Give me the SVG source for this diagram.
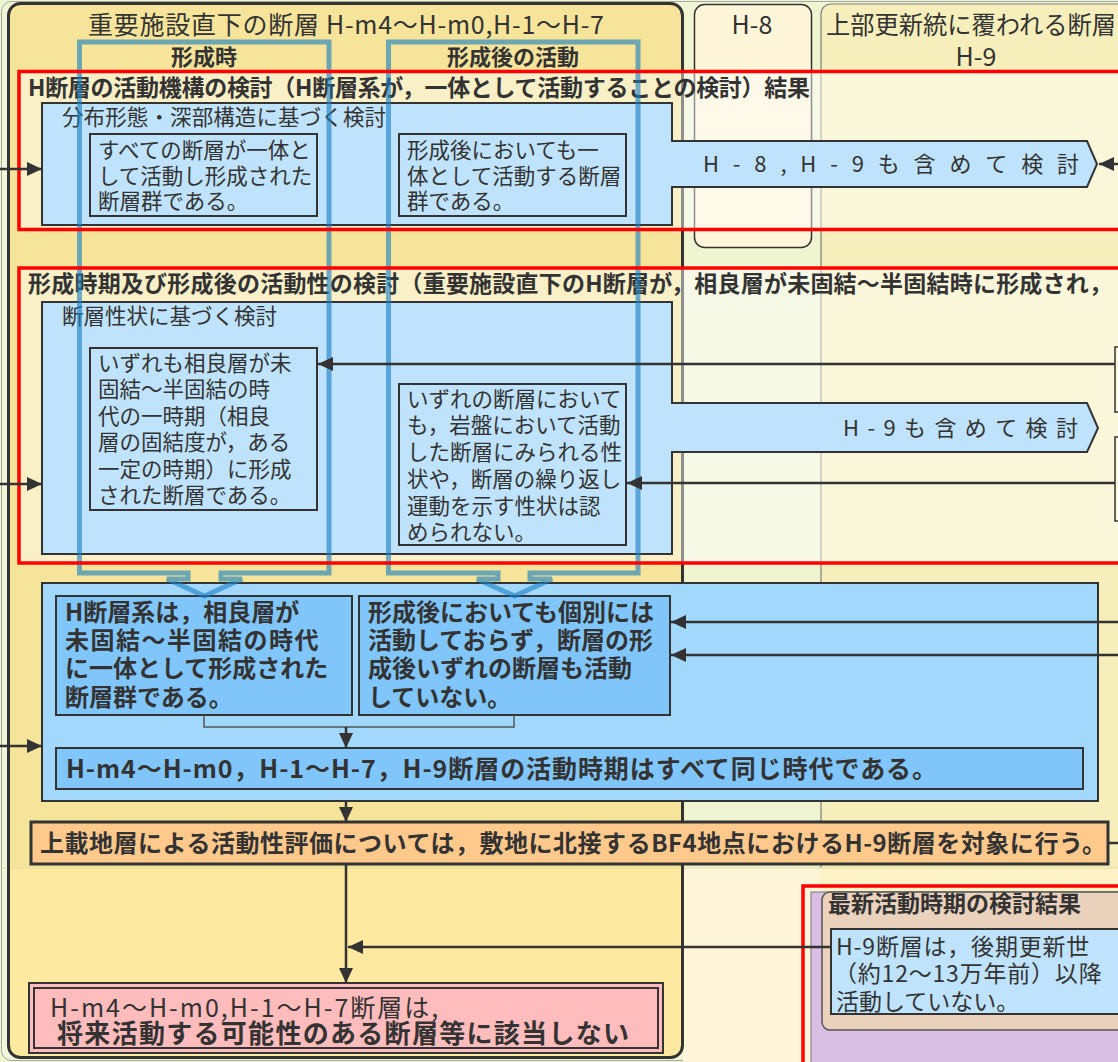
<svg xmlns="http://www.w3.org/2000/svg" width="1118" height="1062" viewBox="0 0 1118 1062">
<style>
text{font-family:"Noto Sans CJK JP","Noto Sans CJK SC",sans-serif;fill:#333;}
.b{font-weight:700;}
.s21{font-size:21.5px;}
.s22{font-size:22px;}
.s23{font-size:23px;}
.s24{font-size:24px;}
.s25{font-size:25px;}
.s26{font-size:26px;}
.bx{stroke:#333;stroke-width:2;}
.lb{fill:#bfe3fd;}
.mb{fill:#80c6fa;}
.ln{stroke:#333;stroke-width:2.5;fill:none;}
.thin{stroke:#555;stroke-width:1.5;fill:none;}
.red{fill:none;stroke:#ff0000;stroke-width:3.5;}
.veil{fill:#ffffff;fill-opacity:.45;}
.frame{fill:none;stroke:#1a7fc4;stroke-opacity:.62;stroke-width:5;}
</style>
<defs>
<marker id="ah" markerUnits="userSpaceOnUse" markerWidth="16" markerHeight="14" refX="15" refY="7" orient="auto">
<path d="M0,0 L15,7 L0,14 z" fill="#333"/>
</marker>
</defs>

<!-- background and lanes -->
<g id="lanes">
<rect x="0" y="0" width="1118" height="1062" fill="#eef5d1"/>
<rect x="1.5" y="1.5" width="1130" height="1059" rx="10" fill="#f1f6da" stroke="#a8a8a0" stroke-width="1"/>
<rect x="683" y="4" width="440" height="864" fill="#eef5d0"/>
<rect x="821" y="4" width="310" height="920" rx="10" fill="#f6efbb" stroke="#808080" stroke-width="1.2"/>
<rect x="683" y="868" width="140" height="194" fill="#fff6d9"/>
<rect x="820" y="868" width="300" height="194" fill="#fdf3c6"/>
<rect x="8.5" y="3.5" width="674" height="1054" rx="12" fill="#f5e49a"/>
<rect x="10" y="868" width="671" height="176" fill="#fde99f"/>
<rect x="10" y="1040" width="671" height="16" rx="10" fill="#fde99f"/>
<line x1="2" y1="868" x2="1118" y2="868" stroke="#e6dca0" stroke-width="1.2"/>
<rect x="8.5" y="3.5" width="674" height="1054" rx="12" fill="none" stroke="#333" stroke-width="3"/>
<rect x="694.5" y="4.5" width="117" height="243" rx="10" fill="#fff5d8" stroke="#333" stroke-width="1.5"/>
<text class="s25" x="88" y="34" textLength="516" lengthAdjust="spacing">重要施設直下の断層 H-m4～H-m0,H-1～H-7</text>
<text class="s25" x="752" y="34" text-anchor="middle">H-8</text>
<text class="s25" x="826" y="34" textLength="290" lengthAdjust="spacingAndGlyphs">上部更新統に覆われる断層</text>
<text class="s25" x="976" y="66" text-anchor="middle">H-9</text>
</g>

<!-- translucent fills of the two study frames -->
<rect class="veil" x="19" y="71.5" width="1110" height="158"/>
<rect class="veil" x="19" y="268" width="1110" height="295"/>

<g id="study1">
<path class="bx lb" d="M42,103 H672 V141 H1087 L1097,164 L1087,187 H672 V225 H42 Z"/>
<text class="s23 b" x="28" y="95.5" textLength="782" lengthAdjust="spacing">H断層の活動機構の検討（H断層系が，一体として活動することの検討）結果</text>
<text class="s21" x="62" y="125" textLength="324" lengthAdjust="spacing">分布形態・深部構造に基づく検討</text>
<text class="s22" x="703" y="172" textLength="376" lengthAdjust="spacing">H-8,H-9も含めて検討</text>
</g>
<g id="boxA">
<rect class="bx lb" x="90" y="134" width="227" height="82"/>
<text class="s21"><tspan x="98" y="158">すべての断層が一体と</tspan><tspan x="98" y="184">して活動し形成された</tspan><tspan x="98" y="209">断層群である。</tspan></text>
</g>
<g id="boxB">
<rect class="bx lb" x="399" y="134" width="227" height="82"/>
<text class="s21"><tspan x="407" y="158">形成後においても一</tspan><tspan x="407" y="184">体として活動する断層</tspan><tspan x="407" y="209">群である。</tspan></text>
</g>

<g id="study2">
<path class="bx lb" d="M42,302 H672 V403 H1087 L1098,428 L1087,452 H672 V554 H42 Z"/>
<text class="s23 b" x="28" y="291.5" textLength="1084" lengthAdjust="spacing">形成時期及び形成後の活動性の検討（重要施設直下のH断層が，相良層が未固結～半固結時に形成され，</text>
<text class="s21" x="62" y="324">断層性状に基づく検討</text>
<text class="s22" x="843" y="436" textLength="235" lengthAdjust="spacing">H-9も含めて検討</text>
</g>
<g id="boxC">
<rect class="bx lb" x="90" y="348" width="227" height="162"/>
<text class="s21"><tspan x="98" y="371">いずれも相良層が未</tspan><tspan x="98" y="397">固結～半固結の時</tspan><tspan x="98" y="424">代の一時期（相良</tspan><tspan x="98" y="450">層の固結度が，ある</tspan><tspan x="98" y="477">一定の時期）に形成</tspan><tspan x="98" y="503">された断層である。</tspan></text>
</g>
<g id="boxD">
<rect class="bx lb" x="399" y="384" width="227" height="161"/>
<text class="s21"><tspan x="407" y="407">いずれの断層において</tspan><tspan x="407" y="433">も，岩盤において活動</tspan><tspan x="407" y="460">した断層にみられる性</tspan><tspan x="407" y="487">状や，断層の繰り返し</tspan><tspan x="407" y="514">運動を示す性状は認</tspan><tspan x="407" y="540">められない。</tspan></text>
</g>
<g id="edgeBoxes">
<rect x="1115" y="347" width="20" height="65" fill="#fbf6de" stroke="#333" stroke-width="1.5"/>
<rect x="1115" y="437" width="20" height="84" fill="#fbf6de" stroke="#333" stroke-width="1.5"/>
</g>

<g id="summary">
<rect class="bx" x="42" y="583" width="1056" height="218" fill="#a3d8fd"/>
</g>
<g id="boxE">
<rect class="bx mb" x="56" y="596" width="296" height="119"/>
<text class="s24 b"><tspan x="65" y="621">H断層系は，相良層が</tspan><tspan x="65" y="649" letter-spacing="1.5">未固結～半固結の時代</tspan><tspan x="65" y="677">に一体として形成された</tspan><tspan x="65" y="706">断層群である。</tspan></text>
</g>
<g id="boxF">
<rect class="bx mb" x="359" y="596" width="311" height="119"/>
<text class="s24 b"><tspan x="368" y="621">形成後においても個別には</tspan><tspan x="368" y="649">活動しておらず，断層の形</tspan><tspan x="368" y="677">成後いずれの断層も活動</tspan><tspan x="368" y="706">していない。</tspan></text>
</g>
<g id="boxG">
<rect class="bx mb" x="56" y="748" width="1027" height="41"/>
<text class="s25 b" x="66" y="778" textLength="871" lengthAdjust="spacing">H-m4～H-m0，H-1～H-7，H-9断層の活動時期はすべて同じ時代である。</text>
</g>
<g id="boxH">
<rect x="31" y="822" width="1077" height="42" fill="#ffc98c" stroke="#333" stroke-width="3"/>
<text class="s24 b" x="40" y="852" textLength="1066" lengthAdjust="spacing">上載地層による活動性評価については，敷地に北接するBF4地点におけるH-9断層を対象に行う。</text>
</g>
<g id="conclusion">
<rect x="29" y="983" width="634" height="70" fill="#ffbcbc" stroke="#333" stroke-width="2"/>
<rect x="34" y="988" width="624" height="60" fill="#ffbcbc" stroke="#333" stroke-width="2"/>
<text><tspan class="s25" x="50" y="1017" letter-spacing="2">H-m4～H-m0,H-1～H-7断層は,</tspan><tspan class="s26 b" x="57" y="1043" letter-spacing="1.3">将来活動する可能性のある断層等に該当しない</tspan></text>
</g>
<g id="latest">
<rect x="811" y="892" width="320" height="200" fill="#d9bfe4" stroke="#888" stroke-width="1.2"/>
<rect x="822" y="892" width="310" height="138" rx="8" fill="#ebd2bd" stroke="#555" stroke-width="1.5"/>
<text class="s23 b" x="828" y="911.5">最新活動時期の検討結果</text>
<rect class="bx lb" x="831" y="929" width="300" height="85"/>
<text style="font-size:23px"><tspan x="836" y="955" letter-spacing="0.8">H-9断層は，後期更新世</tspan><tspan x="834" y="982" letter-spacing="0.8">（約12～13万年前）以降</tspan><tspan x="836" y="1010">活動していない。</tspan></text>
</g>

<!-- column highlight frames -->
<g id="frames">
<path class="frame" d="M79.5,42 H329 V573 H221 V579 H242 L204.5,596 L167,579 H188 V573 H79.5 Z"/>
<path class="frame" d="M388.5,42 H638 V573 H530 V579 H552 L514.5,596 L477,579 H498 V573 H388.5 Z"/>
<text class="s22 b" x="204" y="65" text-anchor="middle">形成時</text>
<text class="s22 b" x="513" y="65" text-anchor="middle">形成後の活動</text>
</g>

<g id="redFrames">
<rect class="red" x="19" y="71.5" width="1110" height="158"/>
<rect class="red" x="19" y="268" width="1110" height="295"/>
<rect class="red" x="803" y="886" width="330" height="200"/>
</g>

<g id="connectors">
<path class="ln" d="M0,169 H42" marker-end="url(#ah)"/>
<path class="ln" d="M0,484 H42" marker-end="url(#ah)"/>
<path class="ln" d="M0,746 H42" marker-end="url(#ah)"/>
<path class="ln" d="M1118,164 H1099" marker-end="url(#ah)"/>
<path class="ln" d="M1115,364 H318" marker-end="url(#ah)"/>
<path class="ln" d="M1115,483 H627" marker-end="url(#ah)"/>
<path class="ln" d="M1118,622 H671" marker-end="url(#ah)"/>
<path class="ln" d="M1118,655 H671" marker-end="url(#ah)"/>
<path class="thin" d="M204,715 V727 H514 V715"/>
<path class="ln" d="M346,727 V748" marker-end="url(#ah)"/>
<path class="ln" d="M346,801 V822" marker-end="url(#ah)"/>
<path class="ln" d="M1108,843 H1118"/>
<path class="ln" d="M346,864 V983" marker-end="url(#ah)"/>
<path class="ln" d="M831,947 H348" marker-end="url(#ah)"/>
</g>
</svg>
